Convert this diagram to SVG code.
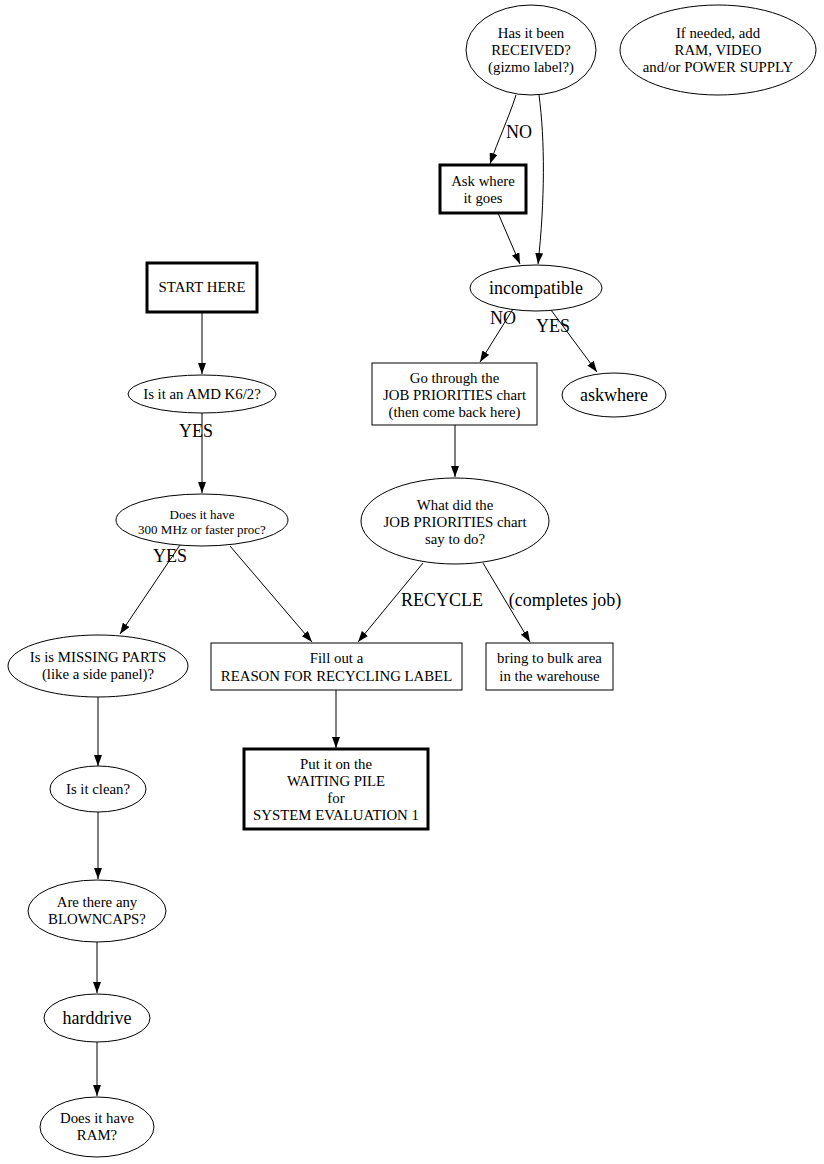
<svg xmlns="http://www.w3.org/2000/svg" width="824" height="1164" viewBox="0 0 824 1164">
<defs>
<marker id="arr" viewBox="0 0 11 8" refX="11" refY="4" markerWidth="11" markerHeight="8" markerUnits="userSpaceOnUse" orient="auto">
<path d="M0,0 L11,4 L0,8 z" fill="#000"/>
</marker>
<style>
.n{fill:#fff;stroke:#000;stroke-width:1}
.b{fill:#fff;stroke:#000;stroke-width:3}
text{font-family:"Liberation Serif","Times New Roman",serif;fill:#000;text-anchor:middle}
.t{font-size:14.8px}
.s{font-size:13px}
.l{font-size:18px}
.e{fill:none;stroke:#000;stroke-width:1;marker-end:url(#arr)}
</style>
</defs>
<rect width="824" height="1164" fill="#fff"/>
<g id="edges">
<path class="e" d="M516,95 C508,120 498,140 490,164"/>
<path class="e" d="M539,95 C545,140 545,200 538,264"/>
<path class="e" d="M498,213 L520,264"/>
<path class="e" d="M513,309 L480,362"/>
<path class="e" d="M551,310 L597,372"/>
<path class="e" d="M455,425 L455,477"/>
<path class="e" d="M202,312 L202,374"/>
<path class="e" d="M202,413 L202,493"/>
<path class="e" d="M180,545 L120,634"/>
<path class="e" d="M230,546 L312,642"/>
<path class="e" d="M423,563 L358,642"/>
<path class="e" d="M483,563 L530,642"/>
<path class="e" d="M336,690 L336,748"/>
<path class="e" d="M98,697 L98,766"/>
<path class="e" d="M98,812 L98,879"/>
<path class="e" d="M97,942 L97,993"/>
<path class="e" d="M97,1042 L97,1096"/>
<text class="l" x="519" y="138">NO</text>
<text class="l" x="503" y="324">NO</text>
<text class="l" x="553" y="332">YES</text>
<text class="l" x="196" y="437">YES</text>
<text class="l" x="170" y="562">YES</text>
<text class="l" x="442" y="606">RECYCLE</text>
<text class="l" x="565" y="606">(completes job)</text>
</g>
<g id="received">
<ellipse class="n" cx="531" cy="50" rx="65" ry="45"/>
<text class="t" x="531" y="38">Has it been</text>
<text class="t" x="531" y="55">RECEIVED?</text>
<text class="t" x="531" y="72">(gizmo label?)</text>
</g>
<g id="ifneeded">
<ellipse class="n" cx="718" cy="50" rx="98" ry="45"/>
<text class="t" x="718" y="38">If needed, add</text>
<text class="t" x="718" y="55">RAM, VIDEO</text>
<text class="t" x="718" y="72">and/or POWER SUPPLY</text>
</g>
<g id="askwheregoes">
<rect class="b" x="440" y="165" width="86" height="48"/>
<text class="t" x="483" y="186">Ask where</text>
<text class="t" x="483" y="203">it goes</text>
</g>
<g id="incompatible">
<ellipse class="n" cx="536" cy="288" rx="66" ry="23"/>
<text class="l" x="536" y="294">incompatible</text>
</g>
<g id="gothrough">
<rect class="n" x="372" y="363" width="165" height="62"/>
<text class="t" x="454.5" y="383">Go through the</text>
<text class="t" x="454.5" y="400">JOB PRIORITIES chart</text>
<text class="t" x="454.5" y="417">(then come back here)</text>
</g>
<g id="askwhere">
<ellipse class="n" cx="614" cy="395" rx="52" ry="22"/>
<text class="l" x="614" y="401">askwhere</text>
</g>
<g id="start">
<rect class="b" x="147" y="263" width="110" height="49"/>
<text class="t" x="202" y="292">START HERE</text>
</g>
<g id="amd">
<ellipse class="n" cx="202" cy="394" rx="74" ry="19"/>
<text class="t" x="202" y="399">Is it an AMD K6/2?</text>
</g>
<g id="mhz">
<ellipse class="n" cx="202" cy="520" rx="86" ry="26"/>
<text class="s" x="202" y="519">Does it have</text>
<text class="s" x="202" y="534">300 MHz or faster proc?</text>
</g>
<g id="whatdid">
<ellipse class="n" cx="455" cy="521" rx="94" ry="43"/>
<text class="t" x="455" y="510">What did the</text>
<text class="t" x="455" y="527">JOB PRIORITIES chart</text>
<text class="t" x="455" y="544">say to do?</text>
</g>
<g id="missing">
<ellipse class="n" cx="98" cy="666" rx="90" ry="31"/>
<text class="t" x="98" y="662">Is is MISSING PARTS</text>
<text class="t" x="98" y="679">(like a side panel)?</text>
</g>
<g id="fillout">
<rect class="n" x="211" y="643" width="251" height="47"/>
<text class="t" x="336.5" y="663">Fill out a</text>
<text class="t" x="336.5" y="681">REASON FOR RECYCLING LABEL</text>
</g>
<g id="bulk">
<rect class="n" x="486" y="643" width="127" height="47"/>
<text class="t" x="549.5" y="663">bring to bulk area</text>
<text class="t" x="549.5" y="681">in the warehouse</text>
</g>
<g id="waiting">
<rect class="b" x="244" y="749" width="184" height="80"/>
<text class="t" x="336" y="769">Put it on the</text>
<text class="t" x="336" y="786">WAITING PILE</text>
<text class="t" x="336" y="803">for</text>
<text class="t" x="336" y="820">SYSTEM EVALUATION 1</text>
</g>
<g id="clean">
<ellipse class="n" cx="98" cy="789" rx="48" ry="23"/>
<text class="t" x="98" y="794">Is it clean?</text>
</g>
<g id="blowncaps">
<ellipse class="n" cx="97" cy="911" rx="69" ry="31"/>
<text class="t" x="97" y="907">Are there any</text>
<text class="t" x="97" y="924">BLOWNCAPS?</text>
</g>
<g id="harddrive">
<ellipse class="n" cx="97" cy="1018" rx="53" ry="24"/>
<text class="l" x="97" y="1024">harddrive</text>
</g>
<g id="ram">
<ellipse class="n" cx="97" cy="1127" rx="57" ry="30"/>
<text class="t" x="97" y="1123">Does it have</text>
<text class="t" x="97" y="1140">RAM?</text>
</g>
</svg>
